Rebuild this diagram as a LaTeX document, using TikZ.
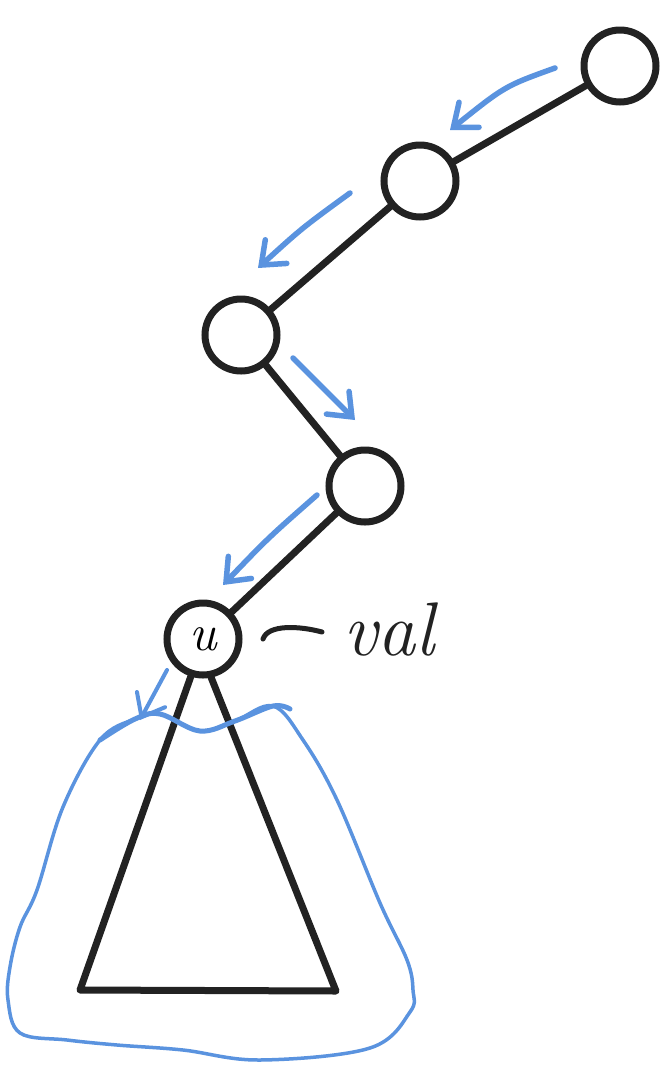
\documentclass[tikz,border=0pt]{standalone}
\usetikzlibrary{arrows.meta}
\definecolor{ink}{HTML}{222222}
\definecolor{pen}{HTML}{5A93DF}
\begin{document}
\begin{tikzpicture}[x=1pt,y=-1pt,
  vert/.style={circle,draw=ink,line width=7pt,minimum size=72pt,inner sep=0pt,font=\fontsize{52}{52}\selectfont\itshape},
  edge/.style={draw=ink,line width=7pt,line cap=round},
  walk/.style={draw=pen,line width=5.5pt,line cap=round,-{Straight Barb[length=20pt,width=32pt,line cap=round]}},
  region/.style={draw=pen,line width=3.5pt,line join=round},
  label/.style={font=\fontsize{76}{76}\selectfont\itshape,text=ink,inner sep=0pt}]
\useasboundingbox (0,0) rectangle (665,1080);
\fill[white] (0,0) rectangle (665,1080);
% vertices
\node[vert] (a) at (620,66) {};
\node[vert] (b) at (420,181) {};
\node[vert] (c) at (241,335) {};
\node[vert] (d) at (365,486) {};
\node[vert] (u) at (203,639) {u};
% path edges
\draw[edge] (a) -- (b);
\draw[edge] (b) -- (c);
\draw[edge] (c) -- (d);
\draw[edge] (d) -- (u);
% subtree triangle
\coordinate (tl) at (80,990);
\coordinate (tr) at (336,991);
\draw[edge,line join=round] (u.-108) -- (tl) -- (tr) -- (u.-78);
% label val
\node[label,anchor=base west] (val) at (343,655) {val};
\coordinate (dashs) at (263,639);
\coordinate (dashe) at (322,632);
\draw[draw=ink,line width=5pt,line cap=round] (dashs) .. controls (268,624) and (300,626) .. (dashe);
% blue walk arrows
\coordinate (w1s) at (555,68);  \coordinate (w1e) at (450,130);
\coordinate (w2s) at (350,193); \coordinate (w2e) at (258,268);
\coordinate (w3s) at (293,358); \coordinate (w3e) at (355,420);
\coordinate (w4s) at (317,495); \coordinate (w4e) at (223,585);
\coordinate (w5s) at (167,670); \coordinate (w5e) at (140,720);
\draw[walk] (w1s) .. controls (505,86) .. (w1e);
\draw[walk] (w2s) .. controls (302,228) .. (w2e);
\draw[walk] (w3s) -- (w3e);
\draw[walk] (w4s) .. controls (268,538) .. (w4e);
\draw[walk,line width=4pt] (w5s) -- (w5e);
% blue region around subtree
\draw[region] plot[smooth cycle,tension=0.6] coordinates {(100,740) (135,719) (160,714) (200,731) (235,721) (273,706) (303,740) (337,800) (380,903) (407,960) (413,990) (410,1012) (370,1048) (260,1060) (183,1050) (117,1045) (67,1040) (20,1033) (8,1000) (10,967) (20,927) (37,890) (63,807)};
\draw[draw=pen,line width=5pt,line cap=round] plot[smooth,tension=0.6] coordinates {(100,740) (135,719) (160,714) (200,731) (235,721) (273,706) (290,709)};
\end{tikzpicture}
\end{document}
